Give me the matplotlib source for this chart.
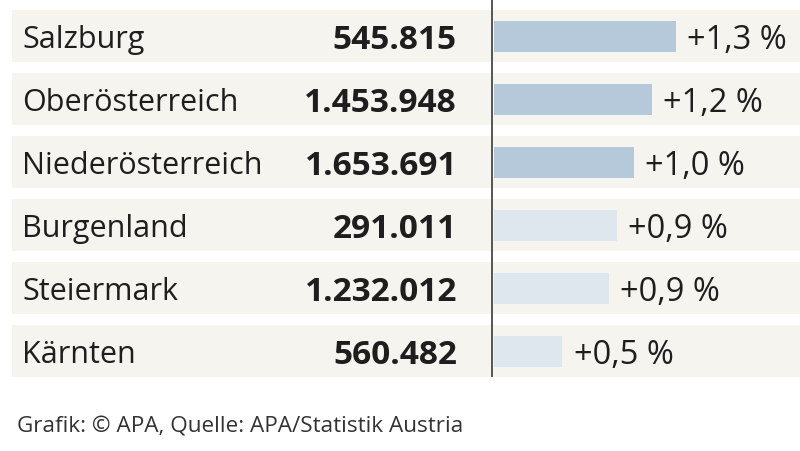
import matplotlib
matplotlib.use("Agg")
import matplotlib.pyplot as plt

regions = ["Salzburg", "Oberösterreich", "Niederösterreich", "Burgenland", "Steiermark", "Kärnten"]
population = ["545.815", "1.453.948", "1.653.691", "291.011", "1.232.012", "560.482"]
growth = [1.3, 1.13, 1.0, 0.88, 0.82, 0.49]
growth_labels = ["+1,3 %", "+1,2 %", "+1,0 %", "+0,9 %", "+0,9 %", "+0,5 %"]
highlight = [True, True, True, False, False, False]
source = "Grafik: © APA, Quelle: APA/Statistik Austria"

W, H = 800, 452
fig = plt.figure(figsize=(W / 100, H / 100), dpi=100)
fig.patch.set_facecolor("white")

pitch = 63.0
first_center = 37.0
line_px = 493.0
px_per_pct = 140.0
ylim = ((H - first_center) / pitch, -first_center / pitch)

font = "Open Sans"
text_col = "#1e1e1e"
bg_col = "#f5f4ef"
dark_bar = "#b6c9da"
light_bar = "#dee6ee"

ys = list(range(len(regions)))

# background / table axes in pixel x units, row-index y units
bg = fig.add_axes([0, 0, 1, 1], zorder=0)
bg.set_xlim(0, W)
bg.set_ylim(*ylim)
bg.axis("off")
bg.barh(ys, [W - 12] * len(ys), left=12, height=52 / pitch, color=bg_col, zorder=0)

for i, (name, pop) in enumerate(zip(regions, population)):
    bg.text(22, i, name, fontsize=22, family=font, color=text_col,
            ha="left", va="center_baseline")
    bg.text(457, i, pop, fontsize=24, family=font, weight="bold", color=text_col,
            ha="right", va="center_baseline")

bg.plot([492, 492], [ylim[1], (378 - first_center) / pitch],
        color="#555555", lw=1.4, zorder=3, solid_capstyle="butt")

bg.text(17, (427 - first_center) / pitch, source, fontsize=16.2, family=font, color="#333333",
        ha="left", va="center")

# bar axes in percent units
ax = fig.add_axes([line_px / W, 0, (W - line_px) / W, 1], zorder=1)
ax.patch.set_visible(False)
ax.set_xlim(0, (W - line_px) / px_per_pct)
ax.set_ylim(*ylim)
ax.axis("off")
colors = [dark_bar if h else light_bar for h in highlight]
ax.barh(ys, growth, height=31 / pitch, color=colors, left=0.005, zorder=2)

for i, (g, lab) in enumerate(zip(growth, growth_labels)):
    ax.text(g + 12 / px_per_pct, i, lab, fontsize=23.5, family=font, color=text_col,
            ha="left", va="center_baseline", clip_on=False)

fig.savefig("out.png", dpi=100)
